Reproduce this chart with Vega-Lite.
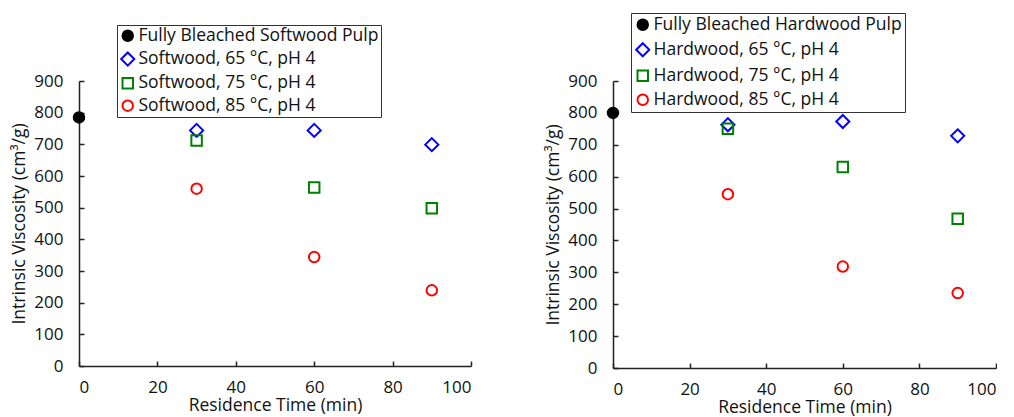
{
  "$schema": "https://vega.github.io/schema/vega-lite/v6.json",
  "padding": {"left": 10, "top": 12, "right": 0, "bottom": 0},
  "background": "white",
  "datasets": {
    "soft": [
      {"series": "Fully Bleached Softwood Pulp", "t": 0, "v": 785},
      {"series": "Softwood, 65 °C, pH 4", "t": 30, "v": 744},
      {"series": "Softwood, 65 °C, pH 4", "t": 60, "v": 744},
      {"series": "Softwood, 65 °C, pH 4", "t": 90, "v": 699},
      {"series": "Softwood, 75 °C, pH 4", "t": 30, "v": 712},
      {"series": "Softwood, 75 °C, pH 4", "t": 60, "v": 564},
      {"series": "Softwood, 75 °C, pH 4", "t": 90, "v": 498},
      {"series": "Softwood, 85 °C, pH 4", "t": 30, "v": 560},
      {"series": "Softwood, 85 °C, pH 4", "t": 60, "v": 344},
      {"series": "Softwood, 85 °C, pH 4", "t": 90, "v": 239}
    ],
    "hard": [
      {"series": "Fully Bleached Hardwood Pulp", "t": 0, "v": 800},
      {"series": "Hardwood, 65 °C, pH 4", "t": 30, "v": 763},
      {"series": "Hardwood, 65 °C, pH 4", "t": 60, "v": 773},
      {"series": "Hardwood, 65 °C, pH 4", "t": 90, "v": 728},
      {"series": "Hardwood, 75 °C, pH 4", "t": 30, "v": 750},
      {"series": "Hardwood, 75 °C, pH 4", "t": 60, "v": 630},
      {"series": "Hardwood, 75 °C, pH 4", "t": 90, "v": 468},
      {"series": "Hardwood, 85 °C, pH 4", "t": 30, "v": 545},
      {"series": "Hardwood, 85 °C, pH 4", "t": 60, "v": 318},
      {"series": "Hardwood, 85 °C, pH 4", "t": 90, "v": 235}
    ]
  },
  "config": {
    "font": "Open Sans",
    "view": {"stroke": null},
    "axis": {
      "grid": false,
      "domainColor": "#222",
      "domainWidth": 1.5,
      "tickColor": "#222",
      "tickWidth": 1.5,
      "tickSize": -5,
      "labelFont": "Open Sans",
      "labelFontSize": 17,
      "labelColor": "#111",
      "titleFont": "Open Sans",
      "titleFontSize": 17.5,
      "titleFontWeight": "normal",
      "titleColor": "#111"
    },
    "legend": {
      "labelFont": "Open Sans",
      "labelFontSize": 17.5,
      "labelColor": "#111",
      "strokeColor": "#333",
      "fillColor": "white",
      "symbolStrokeWidth": 2,
      "symbolSize": 110,
      "labelOffset": 2,
      "labelLimit": 400
    }
  },
  "hconcat": [
    {
      "data": {"name": "soft"},
      "width": 392,
      "height": 285,
      "mark": {"type": "point", "strokeWidth": 2, "opacity": 1, "size": 110},
      "encoding": {
        "x": {"field": "t", "type": "quantitative", "scale": {"domain": [0, 100]}, "axis": {"values": [0, 20, 40, 60, 80, 100], "title": "Residence Time (min)", "labelPadding": 18, "titlePadding": 1}},
        "y": {"field": "v", "type": "quantitative", "scale": {"domain": [0, 900]}, "axis": {"values": [0, 100, 200, 300, 400, 500, 600, 700, 800, 900], "title": "Intrinsic Viscosity (cm³/g)", "labelPadding": 21, "titlePadding": 5}},
        "stroke": {"field": "series", "type": "nominal", "scale": {"domain": ["Fully Bleached Softwood Pulp", "Softwood, 65 °C, pH 4", "Softwood, 75 °C, pH 4", "Softwood, 85 °C, pH 4"], "range": ["black", "#0000ff", "#008000", "#ff0000"]}, "legend": {"title": null, "orient": "none", "legendX": 38, "legendY": -56, "padding": 2, "rowPadding": 3.3}},
        "fill": {"field": "series", "type": "nominal", "scale": {"domain": ["Fully Bleached Softwood Pulp", "Softwood, 65 °C, pH 4", "Softwood, 75 °C, pH 4", "Softwood, 85 °C, pH 4"], "range": ["black", "transparent", "transparent", "transparent"]}, "legend": {"title": null, "orient": "none", "legendX": 38, "legendY": -56, "padding": 2, "rowPadding": 3.3}},
        "shape": {"field": "series", "type": "nominal", "scale": {"domain": ["Fully Bleached Softwood Pulp", "Softwood, 65 °C, pH 4", "Softwood, 75 °C, pH 4", "Softwood, 85 °C, pH 4"], "range": ["circle", "M0,-1.25L1.25,0L0,1.25L-1.25,0Z", "square", "circle"]}, "legend": {"title": null, "orient": "none", "legendX": 38, "legendY": -56, "padding": 2, "rowPadding": 3.3}}
      }
    },
    {
      "data": {"name": "hard"},
      "width": 383,
      "height": 287,
      "mark": {"type": "point", "strokeWidth": 2, "opacity": 1, "size": 110},
      "encoding": {
        "x": {"field": "t", "type": "quantitative", "scale": {"domain": [0, 100]}, "axis": {"values": [0, 20, 40, 60, 80, 100], "title": "Residence Time (min)", "labelPadding": 18, "titlePadding": 1}},
        "y": {"field": "v", "type": "quantitative", "scale": {"domain": [0, 900]}, "axis": {"values": [0, 100, 200, 300, 400, 500, 600, 700, 800, 900], "title": "Intrinsic Viscosity (cm³/g)", "labelPadding": 21, "titlePadding": 5}},
        "stroke": {"field": "series", "type": "nominal", "scale": {"domain": ["Fully Bleached Hardwood Pulp", "Hardwood, 65 °C, pH 4", "Hardwood, 75 °C, pH 4", "Hardwood, 85 °C, pH 4"], "range": ["black", "#0000ff", "#008000", "#ff0000"]}, "legend": {"title": null, "orient": "none", "legendX": 18, "legendY": -68, "padding": 3, "rowPadding": 5}},
        "fill": {"field": "series", "type": "nominal", "scale": {"domain": ["Fully Bleached Hardwood Pulp", "Hardwood, 65 °C, pH 4", "Hardwood, 75 °C, pH 4", "Hardwood, 85 °C, pH 4"], "range": ["black", "transparent", "transparent", "transparent"]}, "legend": {"title": null, "orient": "none", "legendX": 18, "legendY": -68, "padding": 3, "rowPadding": 5}},
        "shape": {"field": "series", "type": "nominal", "scale": {"domain": ["Fully Bleached Hardwood Pulp", "Hardwood, 65 °C, pH 4", "Hardwood, 75 °C, pH 4", "Hardwood, 85 °C, pH 4"], "range": ["circle", "M0,-1.25L1.25,0L0,1.25L-1.25,0Z", "square", "circle"]}, "legend": {"title": null, "orient": "none", "legendX": 18, "legendY": -68, "padding": 3, "rowPadding": 5}}
      }
    }
  ],
  "spacing": 142,
  "bounds": "flush",
  "resolve": {
    "scale": {"x": "independent", "y": "independent", "stroke": "independent", "fill": "independent", "shape": "independent"},
    "legend": {"stroke": "independent", "fill": "independent", "shape": "independent"}
  }
}
